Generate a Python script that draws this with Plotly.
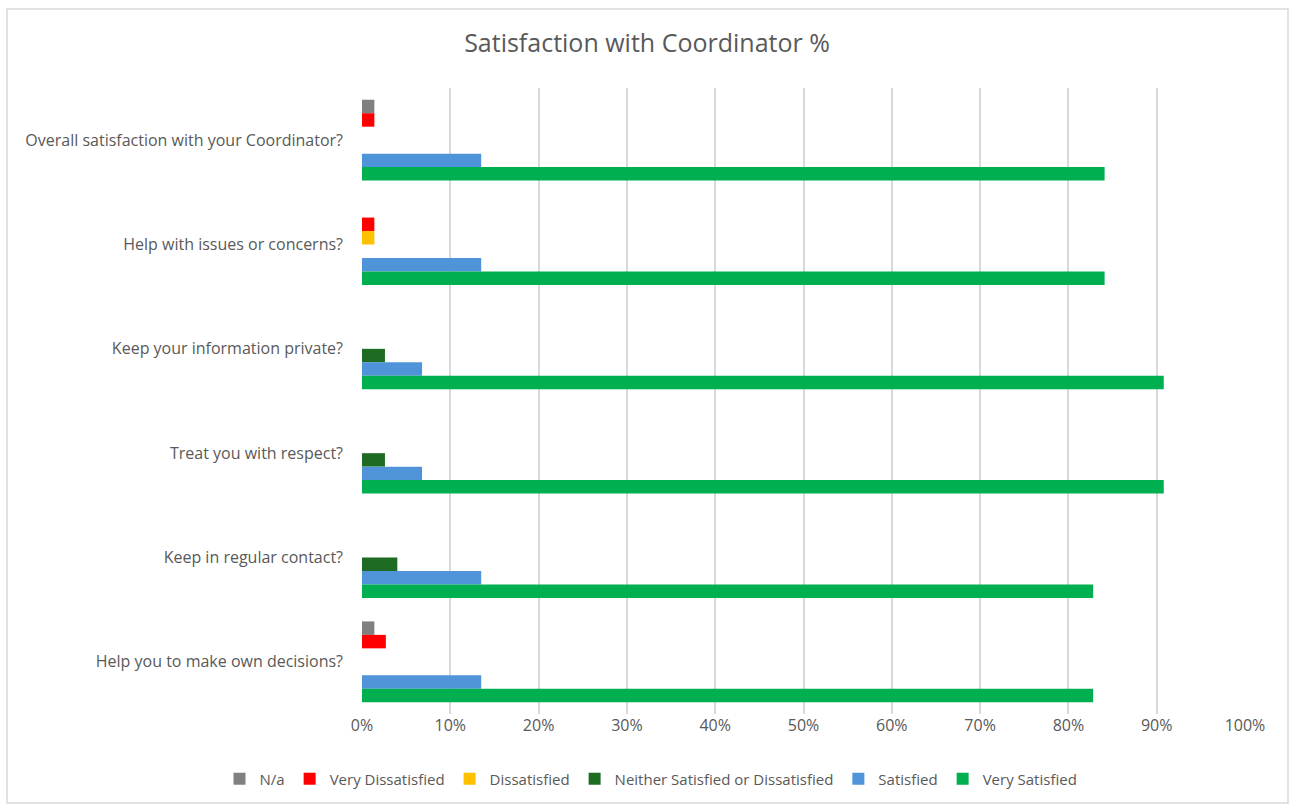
import plotly.graph_objects as go

categories = [
    "Overall satisfaction with your Coordinator?",
    "Help with issues or concerns?",
    "Keep your information private?",
    "Treat you with respect?",
    "Keep in regular contact?",
    "Help you to make own decisions?",
]

series_names = ["N/a", "Very Dissatisfied", "Dissatisfied",
                "Neither Satisfied or Dissatisfied", "Satisfied", "Very Satisfied"]

na_vals = [1.4, 0, 0, 0, 0, 1.4]
very_dissatisfied = [1.4, 1.4, 0, 0, 0, 2.7]
dissatisfied = [0, 1.4, 0, 0, 0, 0]
neither = [0, 0, 2.6, 2.6, 4.0, 0]
satisfied = [13.5, 13.5, 6.8, 6.8, 13.5, 13.5]
very_satisfied = [84.1, 84.1, 90.8, 90.8, 82.8, 82.8]

series_values = [na_vals, very_dissatisfied, dissatisfied, neither, satisfied, very_satisfied]
colors = ["#808080", "#FF0000", "#FFC000", "#1E6B23", "#4F93D8", "#00B050"]

tick_vals = [0, 10, 20, 30, 40, 50, 60, 70, 80, 90, 100]
tick_text = ["0%", "10%", "20%", "30%", "40%", "50%", "60%", "70%", "80%", "90%", "100%"]

FONT = "Open Sans, Lato, sans-serif"
GREY = "#595959"

fig = go.Figure()
for name, vals, col in zip(series_names, series_values, colors):
    fig.add_trace(go.Bar(
        y=categories, x=vals, name=name, orientation="h",
        marker=dict(color=col, line=dict(width=0)),
        hoverinfo="x+y+name",
    ))

W, H = 1290, 805
ml, mr, mt, mb = 362, 45, 88, 91
pw = W - ml - mr
ph = H - mt - mb

def px_to_paper_x(px):
    return (px - ml) / pw

def px_to_paper_y(py):
    return (H - mb - py) / ph

fig.add_shape(type="rect", xref="paper", yref="paper",
              x0=px_to_paper_x(7), x1=px_to_paper_x(1288),
              y0=px_to_paper_y(803), y1=px_to_paper_y(9),
              line=dict(color="#D9D9D9", width=1.5), fillcolor="rgba(0,0,0,0)",
              layer="below")

fig.update_layout(
    width=W, height=H,
    margin=dict(l=ml, r=mr, t=mt, b=mb, autoexpand=False),
    paper_bgcolor="white", plot_bgcolor="white",
    barmode="group", bargap=0.225, bargroupgap=0,
    title=dict(text="Satisfaction with Coordinator %", x=px_to_paper_x(647), xref="paper",
               xanchor="center", y=1 - 43 / H, yanchor="middle",
               font=dict(family=FONT, size=25, color=GREY)),
    font=dict(family=FONT, size=16, color=GREY),
    xaxis=dict(range=[0, 100], tickvals=tick_vals, ticktext=tick_text,
               showgrid=True, gridcolor="#D9D9D9", gridwidth=1.5,
               zeroline=False, showline=False, ticks="", automargin=False,
               tickangle=0,
               tickfont=dict(size=16, color=GREY), fixedrange=True),
    yaxis=dict(autorange="reversed", showgrid=False, zeroline=False,
               showline=False, ticks="", ticklabelstandoff=18, automargin=False,
               tickfont=dict(size=16, color=GREY), fixedrange=True),
    legend=dict(orientation="h", x=px_to_paper_x(651), xref="paper", xanchor="center",
                y=px_to_paper_y(779), yanchor="middle",
                font=dict(size=15, color=GREY), traceorder="normal",
                bgcolor="rgba(0,0,0,0)"),
    showlegend=True,
)

fig.write_html("out.html")
